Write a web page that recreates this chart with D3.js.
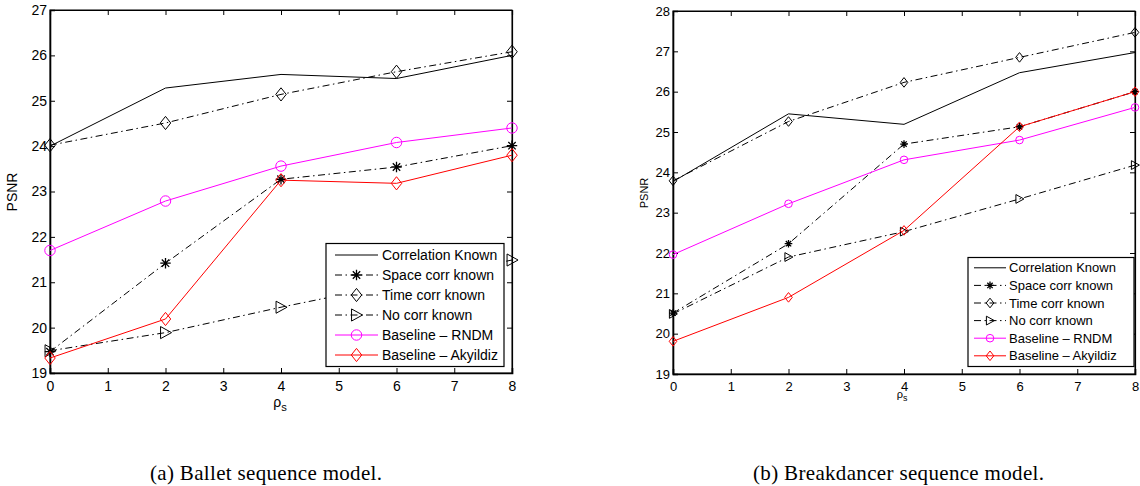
<!DOCTYPE html>
<html><head><meta charset="utf-8">
<script src="https://cdn.jsdelivr.net/npm/d3@7"></script>
<style>body{margin:0;background:#fff}svg{display:block}</style>
</head><body>
<svg id="c" width="1140" height="486"></svg>
<script>
const xValues = [0, 2, 4, 6, 8];
const seriesNames = ["Correlation Known", "Space corr known", "Time corr known", "No corr known", "Baseline \u2013 RNDM", "Baseline \u2013 Akyildiz"];
// Ballet
const balletCorrKnown  = [24.0, 25.28, 25.58, 25.49, 26.0];
const balletSpaceCorr  = [19.47, 21.42, 23.27, 23.54, 24.01];
const balletTimeCorr   = [24.02, 24.51, 25.14, 25.64, 26.08];
const balletNoCorr     = [19.49, 19.89, 20.45, 20.97, 21.49];
const balletRNDM       = [21.7, 22.79, 23.56, 24.08, 24.40];
const balletAkyildiz   = [19.33, 20.19, 23.25, 23.18, 23.80];
// Breakdancer
const breakCorrKnown   = [23.77, 25.45, 25.19, 26.47, 26.97];
const breakSpaceCorr   = [20.51, 22.23, 24.70, 25.13, 26.0];
const breakTimeCorr    = [23.79, 25.26, 26.23, 26.85, 27.47];
const breakNoCorr      = [20.49, 21.90, 22.53, 23.34, 24.18];
const breakRNDM        = [21.96, 23.22, 24.31, 24.80, 25.61];
const breakAkyildiz    = [19.81, 20.90, 22.56, 25.13, 26.0];
const xTicks = [0,1,2,3,4,5,6,7,8];
const yTicksA = [19,20,21,22,23,24,25,26,27];
const yTicksB = [19,20,21,22,23,24,25,26,27,28];
const captions = ["(a) Ballet sequence model.", "(b) Breakdancer sequence model."];

const styles = [
  {color:"#000", dash:null, marker:null},
  {color:"#000", dash:"dashdot", marker:"star"},
  {color:"#000", dash:"dashdot", marker:"diamond"},
  {color:"#000", dash:"dashdot", marker:"triangle"},
  {color:"#ff00ff", dash:null, marker:"circle"},
  {color:"#ff0000", dash:null, marker:"diamond"}
];

const svg = d3.select("#c");

function drawMarker(g, type, x, y, s, color) {
  if (type === "circle") {
    g.append("circle").attr("cx", x).attr("cy", y).attr("r", s*0.95)
      .attr("fill","none").attr("stroke",color).attr("stroke-width",1);
  } else if (type === "diamond") {
    g.append("path").attr("d", `M${x},${y-s*1.2}L${x+s*0.95},${y}L${x},${y+s*1.2}L${x-s*0.95},${y}Z`)
      .attr("fill","none").attr("stroke",color).attr("stroke-width",1);
  } else if (type === "triangle") {
    g.append("path").attr("d", `M${x+s*1.1},${y}L${x-s*0.9},${y-s*1.1}L${x-s*0.9},${y+s*1.1}Z`)
      .attr("fill","none").attr("stroke",color).attr("stroke-width",1);
  } else if (type === "star") {
    const r = s*0.95;
    let d = "";
    for (let k=0;k<4;k++){
      const a = k*Math.PI/4;
      d += `M${x-r*Math.cos(a)},${y-r*Math.sin(a)}L${x+r*Math.cos(a)},${y+r*Math.sin(a)}`;
    }
    g.append("path").attr("d", d).attr("stroke",color).attr("stroke-width",1.3).attr("fill","none");
  }
}

function panel(cfg) {
  const {left, right, top, bottom, yDomain, yTicks, data, tickFont, mSize, legend, psnr, rho, caption, dashArr} = cfg;
  const x = d3.scaleLinear().domain([0,8]).range([left, right]);
  const y = d3.scaleLinear().domain(yDomain).range([bottom, top]);
  const g = svg.append("g");

  g.append("rect").attr("x",left).attr("y",top).attr("width",right-left).attr("height",bottom-top)
    .attr("fill","none").attr("stroke","#000").attr("stroke-width",1);

  const ax = g.append("g").attr("transform",`translate(0,${bottom})`)
    .call(d3.axisBottom(x).tickValues(xTicks).tickSize(-5).tickPadding(8).tickFormat(d3.format("d")));
  const ay = g.append("g").attr("transform",`translate(${left},0)`)
    .call(d3.axisLeft(y).tickValues(yTicks).tickSize(-5).tickPadding(3).tickFormat(d3.format("d")));
  const axT = g.append("g").attr("transform",`translate(0,${top})`)
    .call(d3.axisTop(x).tickValues(xTicks).tickSize(-5).tickFormat(""));
  const ayR = g.append("g").attr("transform",`translate(${right},0)`)
    .call(d3.axisRight(y).tickValues(yTicks).tickSize(-5).tickFormat(""));
  [ax,ay,axT,ayR].forEach(a=>{
    a.select(".domain").attr("stroke","#000").attr("stroke-width",1.6);
    a.selectAll(".tick line").attr("stroke","#000").attr("stroke-width",1);
    a.selectAll("text").attr("font-family","Liberation Sans, Arial, sans-serif").attr("font-size",tickFont).attr("fill","#000");
  });
  axT.select(".domain").attr("stroke-width",1.2);
  ayR.select(".domain").attr("stroke-width",1.2);

  const line = d3.line().x((d,i)=>x(xValues[i])).y(d=>y(d));
  data.forEach((vals, si) => {
    const st = styles[si];
    g.append("path").attr("d", line(vals)).attr("fill","none").attr("stroke",st.color)
      .attr("stroke-width",1).attr("stroke-dasharray", st.dash ? dashArr : null);
  });
  data.forEach((vals, si) => {
    const st = styles[si];
    if (st.marker) vals.forEach((v,i)=> drawMarker(g, st.marker, x(xValues[i]), y(v), mSize, st.color));
  });

  const L = legend;
  g.append("rect").attr("x",L.x).attr("y",L.y).attr("width",L.w).attr("height",L.h)
    .attr("fill","#fff").attr("stroke","#000").attr("stroke-width",1.2);
  seriesNames.forEach((name, si) => {
    const st = styles[si];
    const cy = L.y + L.pad + L.row*(si+0.5);
    g.append("line").attr("x1",L.sx1).attr("x2",L.sx2).attr("y1",cy).attr("y2",cy)
      .attr("stroke",st.color).attr("stroke-width",1).attr("stroke-dasharray", st.dash ? dashArr : null);
    if (st.marker) drawMarker(g, st.marker, (L.sx1+L.sx2)/2, cy, L.mSize, st.color);
    g.append("text").attr("x",L.tx).attr("y",cy).attr("dy","0.36em")
      .attr("font-family","Liberation Sans, Arial, sans-serif").attr("font-size",L.font).attr("fill","#000").text(name);
  });

  g.append("text").attr("transform",`translate(${psnr.x},${psnr.y}) rotate(-90)`).attr("text-anchor","middle")
    .attr("font-family","Liberation Sans, Arial, sans-serif").attr("font-size",psnr.font).attr("fill","#000").text("PSNR");
  const t = g.append("text").attr("x",rho.x).attr("y",rho.y).attr("text-anchor","middle")
    .attr("font-family","Liberation Sans, Arial, sans-serif").attr("font-size",rho.font).attr("fill","#000");
  t.append("tspan").text("\u03c1");
  t.append("tspan").attr("font-size",rho.font*0.8).attr("dy",rho.font*0.3).text("s");

  svg.append("text").attr("x",caption.x).attr("y",caption.y)
    .attr("textLength",caption.len).attr("lengthAdjust","spacing")
    .attr("font-family","Liberation Serif, Times New Roman, serif").attr("font-size",21).attr("fill","#000").text(caption.text);
}

panel({
  left:50, right:512, top:10, bottom:373, yDomain:[19,27], yTicks:yTicksA, tickFont:14, mSize:5.5,
  dashArr:"7,3.5,1.5,3.5",
  data:[balletCorrKnown, balletSpaceCorr, balletTimeCorr, balletNoCorr, balletRNDM, balletAkyildiz],
  legend:{x:326, y:243.5, w:178, h:123, pad:1.5, row:20, sx1:335, sx2:378, tx:382, font:14, mSize:5.5},
  psnr:{x:17, y:192, font:14}, rho:{x:280, y:407, font:14},
  caption:{x:150, y:480, len:232, text:captions[0]}
});
panel({
  left:673, right:1135, top:11, bottom:374, yDomain:[19,28], yTicks:yTicksB, tickFont:13, mSize:4,
  dashArr:"7,3.5,1.5,3.5",
  data:[breakCorrKnown, breakSpaceCorr, breakTimeCorr, breakNoCorr, breakRNDM, breakAkyildiz],
  legend:{x:968, y:257.5, w:166, h:109, pad:1.5, row:17.6, sx1:974, sx2:1006, tx:1009, font:13, mSize:4},
  psnr:{x:648, y:193, font:11}, rho:{x:902, y:398, font:11},
  caption:{x:753, y:480, len:291, text:captions[1]}
});
</script>
</body></html>
